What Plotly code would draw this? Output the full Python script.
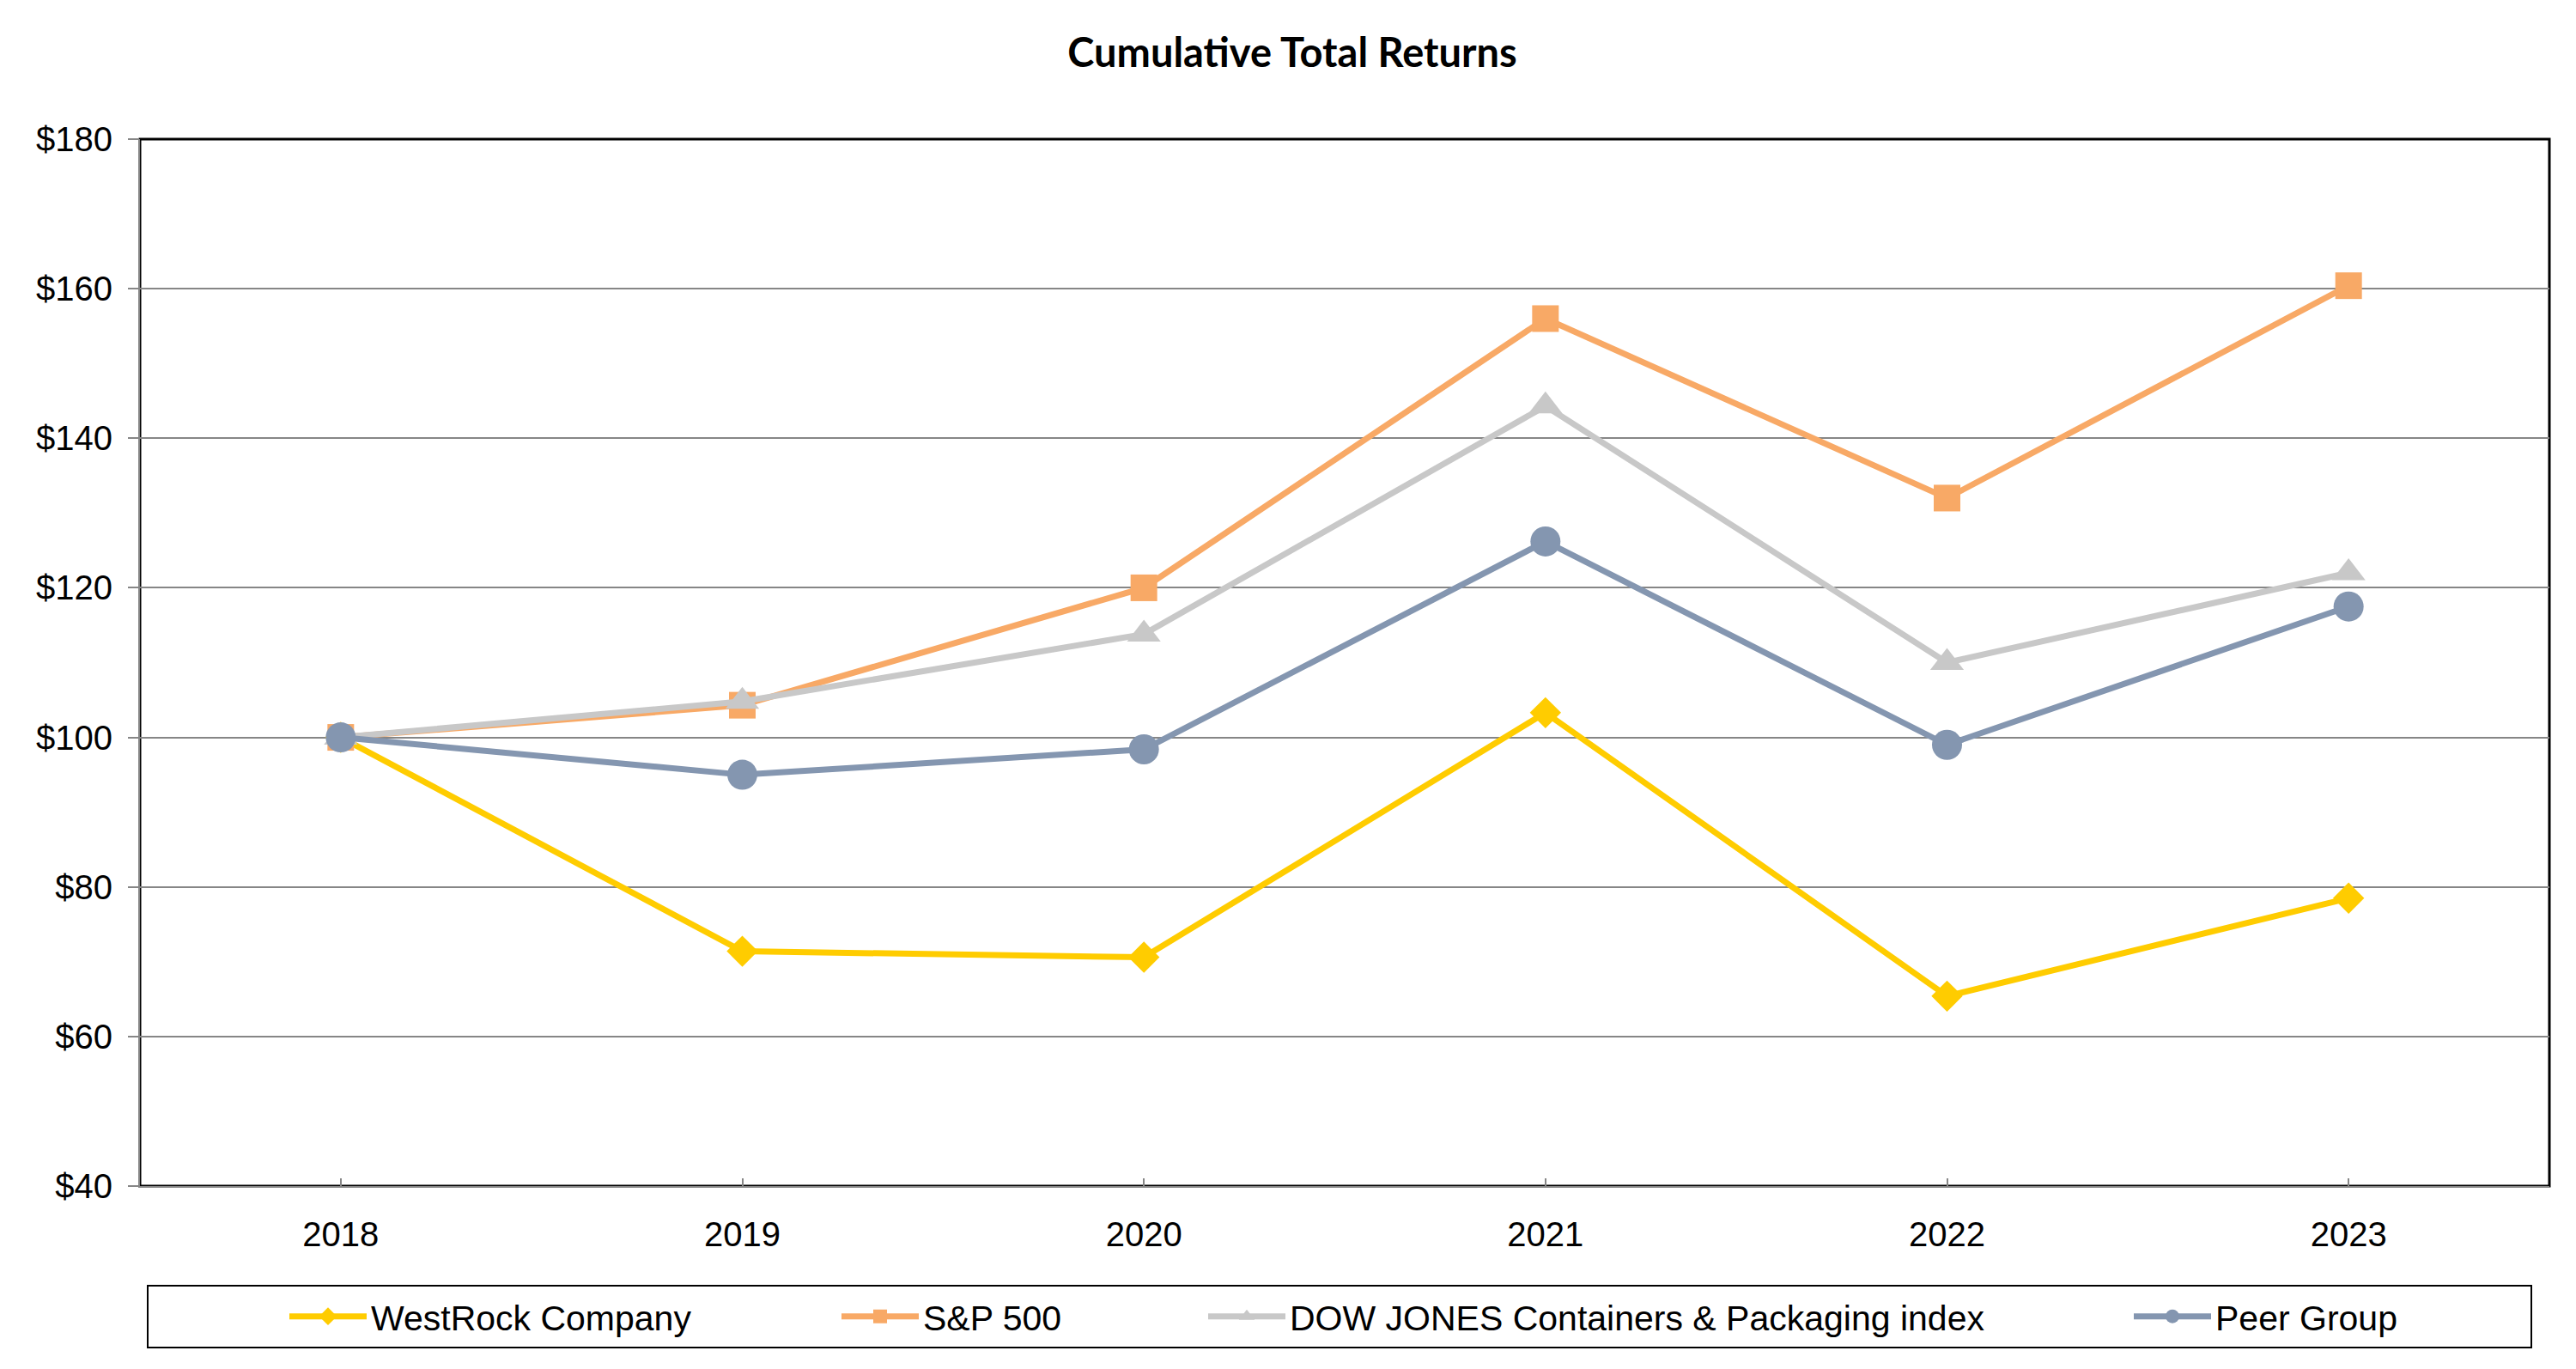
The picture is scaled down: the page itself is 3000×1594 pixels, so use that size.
import plotly.graph_objects as go

years = ["2018", "2019", "2020", "2021", "2022", "2023"]
westrock = [100.0, 71.4, 70.6, 103.3, 65.4, 78.5]
sp500 = [100.0, 104.3, 120.0, 156.0, 132.0, 160.4]
dowjones = [100.0, 104.8, 113.8, 144.3, 110.0, 122.0]
peer = [100.0, 95.0, 98.4, 126.2, 99.0, 117.5]

series_names = ["WestRock Company", "S&P 500", "DOW JONES Containers & Packaging index", "Peer Group"]
series_values = [westrock, sp500, dowjones, peer]
colors = ["#FFCC00", "#F8A966", "#C8C8C8", "#8496B0"]
symbols = ["diamond", "square", "triangle-up", "circle"]
sizes = [28, 31, 34, 35]

# page offset of the figure (browser body margin)
OFF = 8
W, H = 3000 - OFF, 1594 - OFF
L, T = 163 - OFF, 162 - OFF
pw, ph = 2806, 1219
R, B = W - L - pw, H - T - ph

def px_x(p):
    return (p - OFF - L) / pw

def px_y(p):
    return (T + ph - (p - OFF)) / ph

legend_left = [332, 975, 1402, 2480]

fig = go.Figure()
for i, (name, vals) in enumerate(zip(series_names, series_values)):
    fig.add_trace(go.Scatter(
        x=years, y=vals, name=name, mode="lines+markers",
        line=dict(color=colors[i], width=7),
        marker=dict(symbol=symbols[i], size=sizes[i], color=colors[i], line=dict(width=0)),
        legend="legend" if i == 0 else f"legend{i+1}",
    ))

leg_common = dict(orientation="h", yanchor="middle", xanchor="left",
                  bgcolor="rgba(0,0,0,0)", borderwidth=0,
                  font=dict(family="Liberation Sans, Arial, sans-serif", size=41, color="#000000"),
                  itemwidth=90)
layout_legends = {}
for i in range(4):
    key = "legend" if i == 0 else f"legend{i+1}"
    layout_legends[key] = dict(leg_common, x=px_x(legend_left[i]), y=px_y(1533))

fig.update_layout(
    width=W, height=H,
    margin=dict(l=L, r=R, t=T, b=B, pad=0),
    paper_bgcolor="white", plot_bgcolor="white",
    title=dict(text="<b>Cumulative Total Returns</b>", x=(1505 - OFF) / W, xanchor="center", xref="container",
               y=1 - (62 - OFF) / H, yanchor="middle", yref="container",
               font=dict(family="Lato, Open Sans, sans-serif", size=47, color="#000000")),
    xaxis=dict(type="category", range=[-0.5, 5.5], showgrid=False,
               ticks="inside", ticklen=9, tickwidth=2, tickcolor="#868686",
               showline=True, linecolor="#868686", linewidth=2,
               tickfont=dict(family="Liberation Sans, Arial, sans-serif", size=40, color="#000000"),
               ticklabelstandoff=20),
    yaxis=dict(range=[40, 180], dtick=20, tick0=40, tickprefix="$",
               showgrid=True, gridcolor="#868686", gridwidth=2,
               ticks="outside", ticklen=12, tickwidth=2, tickcolor="#868686",
               showline=True, linecolor="#868686", linewidth=2, zeroline=False,
               tickfont=dict(family="Liberation Sans, Arial, sans-serif", size=40, color="#000000"),
               ticklabelstandoff=10),
    showlegend=True,
    **layout_legends,
)

# plot area border
fig.add_shape(type="rect", xref="paper", yref="paper", x0=0, y0=0, x1=1, y1=1,
              line=dict(color="#000000", width=3), fillcolor="rgba(0,0,0,0)", layer="below")
# legend box
fig.add_shape(type="rect", xref="paper", yref="paper",
              x0=px_x(172), x1=px_x(2948), y0=px_y(1569), y1=px_y(1497),
              line=dict(color="#000000", width=2), fillcolor="rgba(0,0,0,0)", layer="below")

fig.write_html("out.html")
